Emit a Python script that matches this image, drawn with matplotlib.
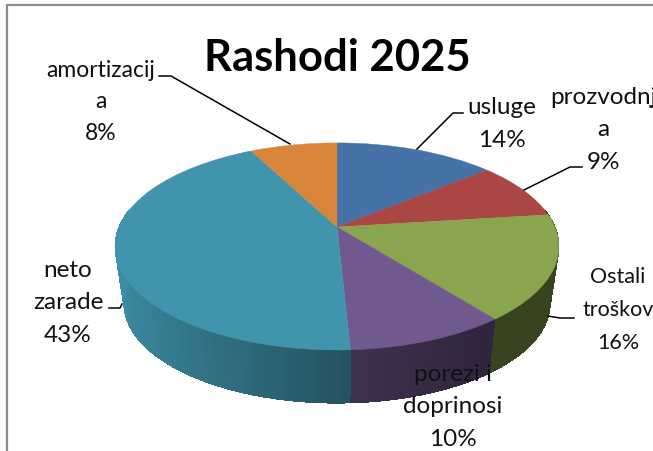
import matplotlib as mpl
mpl.use("Agg")
import matplotlib.pyplot as plt
import numpy as np
from matplotlib.collections import PolyCollection
from matplotlib.transforms import Transform

title = "Rashodi 2025"
names = ["usluge", "prozvodnj\na", "Ostali\ntroškov", "porezi i\ndoprinosi", "neto\nzarade", "amortizacij\na"]
values = [14.0, 9.0, 16.4, 9.8, 43.2, 7.6]
colors = ["#4572a7", "#aa4643", "#89a54e", "#71588f", "#4095ad", "#d9843b"]

# label anchors and leader lines, in image pixels
label_x = [502, 603, 618, 453, 68, 101]
label_y = [124, 130, 310, 407, 303, 102]
label_size = [17.5, 17.5, 15.5, 17.5, 17.5, 16.5]
label_gap = [1.65, 1.65, 1.8, 1.65, 1.65, 1.6]
leaders = [
    ([463, 453, 417], [114, 114, 150]),
    ([582, 570, 524], [168, 168, 191]),
    ([574, 560, 548], [319, 319, 317]),
    ([109, 120, 122], [309, 309, 305]),
    ([159, 171, 290], [77, 77, 145]),
    ([650, 653], [107, 107]),
]

CX, CY, A, B, P = 337.0, 228.0, 218.0, 99.9, 0.188
SIDE_CY, SIDE_S = 286.0, 0.96


class Tilt(Transform):
    input_dims = output_dims = 2

    def __init__(self, cy=CY, s=1.0):
        super().__init__()
        self.cy, self.s = cy, s

    def transform_non_affine(self, xy):
        xy = np.asarray(xy, dtype=float)
        w = 1 + P * xy[:, 1]
        return np.column_stack([CX + self.s * A * xy[:, 0] / w, self.cy - self.s * B * xy[:, 1] / w])


fig = plt.figure(figsize=(6.53, 4.52), dpi=100)
ax = fig.add_axes([0, 0, 1, 1])

wedges, _ = ax.pie(values, colors=colors, startangle=90, counterclock=False)
top = Tilt()
for w, c in zip(wedges, colors):
    w.set_transform(top + ax.transData)
    w.set_edgecolor(c)
    w.set_linewidth(0.3)
    w.set_zorder(3)

ax.set_aspect("auto")
ax.set_xlim(0, 653)
ax.set_ylim(452, 0)
ax.axis("off")

# side wall, darker towards the right
rim = Tilt(SIDE_CY, SIDE_S)
edges = np.cumsum([0] + values) / sum(values) * 2 * np.pi
quads, quad_colors = [], []
for i, c in enumerate(colors):
    lo, hi = max(edges[i], np.radians(80)), min(edges[i + 1], np.radians(280))
    if hi <= lo:
        continue
    th = np.linspace(lo, hi, max(int(np.degrees(hi - lo) / 2.5) + 2, 2))
    for t0, t1 in zip(th[:-1], th[1:]):
        a = np.array([[np.sin(t0), np.cos(t0)], [np.sin(t1), np.cos(t1)]])
        quads.append(np.vstack([top.transform(a), rim.transform(a[::-1])]))
        f = np.interp(np.sin((t0 + t1) / 2), [-1, 0, 0.63, 1], [0.95, 0.57, 0.41, 0.41])
        quad_colors.append(np.array(mpl.colors.to_rgb(c)) * f)
ax.add_collection(PolyCollection(quads, facecolors=quad_colors, edgecolors="none", antialiased=False, zorder=2))

for xs, ys in leaders:
    ax.plot(xs, ys, color="black", lw=1.1, zorder=4, scalex=False, scaley=False)

for name, v, x, y, fs, gap in zip(names, values, label_x, label_y, label_size, label_gap):
    ax.text(x, y, f"{name}\n{round(v)}%", ha="center", va="center", family="Lato",
            fontsize=fs, linespacing=gap, color="#111111", zorder=5)

ax.text(337, 58, title, ha="center", va="center", family="Lato", fontsize=31.4, fontweight="bold",
        color="black", zorder=5)

# chart frame, only left and top fall inside the crop
ax.plot([6.5, 6.5, 653], [452, 5.5, 5.5], color="#8c8c8c", lw=1.6, zorder=1, scalex=False, scaley=False)

fig.savefig("out.png", dpi=100)
